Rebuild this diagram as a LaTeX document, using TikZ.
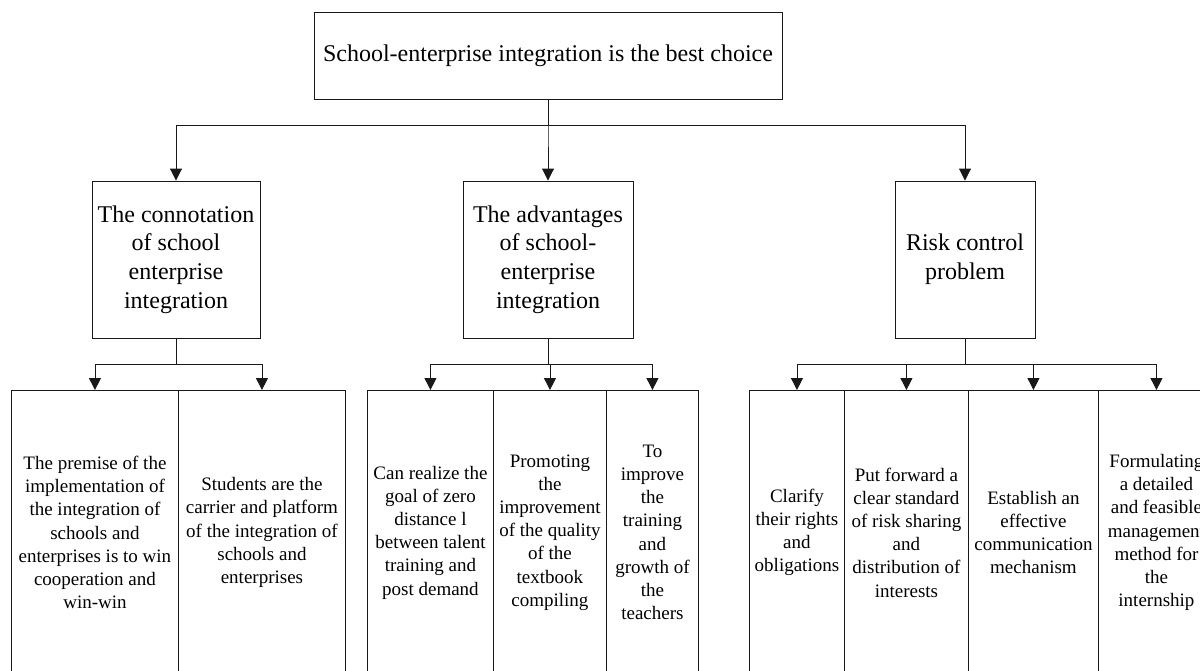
\documentclass[tikz,border=0pt]{standalone}
\usepackage{fontspec}
\setmainfont{Liberation Serif}
\usetikzlibrary{arrows.meta}

\begin{document}
\begin{tikzpicture}[x=1pt,y=-1pt,
  box/.style={draw=black!90, line width=0.9pt, inner sep=0pt, align=center},
  headbox/.style={box, font=\fontsize{24}{28.8}\selectfont},
  leafbox/.style={box, anchor=north west, minimum height=284pt,
                  font=\fontsize{19}{23.2}\selectfont},
  arr/.style={draw=black!90, line width=0.9pt,
              -{Triangle[width=12pt,length=12pt]}}]

\useasboundingbox (0,0) rectangle (1200,670);
\clip (0,0) rectangle (1200,670);

% root
\node[headbox, minimum width=468pt, minimum height=87pt] (root) at (548,55.5)
  {School-enterprise integration is the best choice};

% second level
\node[headbox, minimum width=168pt, minimum height=157pt] (m1) at (176,259.5)
  {The connotation\\of school\\enterprise\\integration};
\node[headbox, minimum width=170pt, minimum height=157pt] (m2) at (548,259.5)
  {The advantages\\of school-\\enterprise\\integration};
\node[headbox, minimum width=140pt, minimum height=157pt] (m3) at (965,259.5)
  {Risk control\\problem};

% leaves of the first branch
\node[leafbox, minimum width=167pt] (a1) at (11,390)
  {The premise of the\\implementation of\\the integration of\\schools and\\enterprises is to win\\cooperation and\\win-win};
\node[leafbox, minimum width=167pt] (a2) at (178,390)
  {Students are the\\carrier and platform\\of the integration of\\schools and\\enterprises};

% leaves of the second branch
\node[leafbox, minimum width=126pt] (b1) at (367,390)
  {Can realize the\\goal of zero\\distance l\\between talent\\training and\\post demand};
\node[leafbox, minimum width=113pt] (b2) at (493,390)
  {Promoting\\the\\improvement\\of the quality\\of the\\textbook\\compiling};
\node[leafbox, minimum width=92pt] (b3) at (606,390)
  {To\\improve\\the\\training\\and\\growth of\\the\\teachers};

% leaves of the third branch
\node[leafbox, minimum width=95pt] (c1) at (749,390)
  {Clarify\\their rights\\and\\obligations};
\node[leafbox, minimum width=124pt] (c2) at (844,390)
  {Put forward a\\clear standard\\of risk sharing\\and\\distribution of\\interests};
\node[leafbox, minimum width=130pt] (c3) at (968,390)
  {Establish an\\effective\\communication\\mechanism};
\node[leafbox, minimum width=116pt] (c4) at (1098,390)
  {Formulating\\a detailed\\and feasible\\management\\method for\\the\\internship};

% connectors: root to second level
\foreach \t in {m1,m2,m3}
  \draw[arr] (root.south) -- ++(0,26) -| (\t.north);

% connectors: second level to leaves
\foreach \t in {a1,a2}
  \draw[arr] (m1.south) -- ++(0,26) -| (\t.north);
\foreach \t in {b1,b2,b3}
  \draw[arr] (m2.south) -- ++(0,26) -| (\t.north);
\foreach \t in {c1,c2,c3,c4}
  \draw[arr] (m3.south) -- ++(0,26) -| (\t.north);

\end{tikzpicture}
\end{document}
